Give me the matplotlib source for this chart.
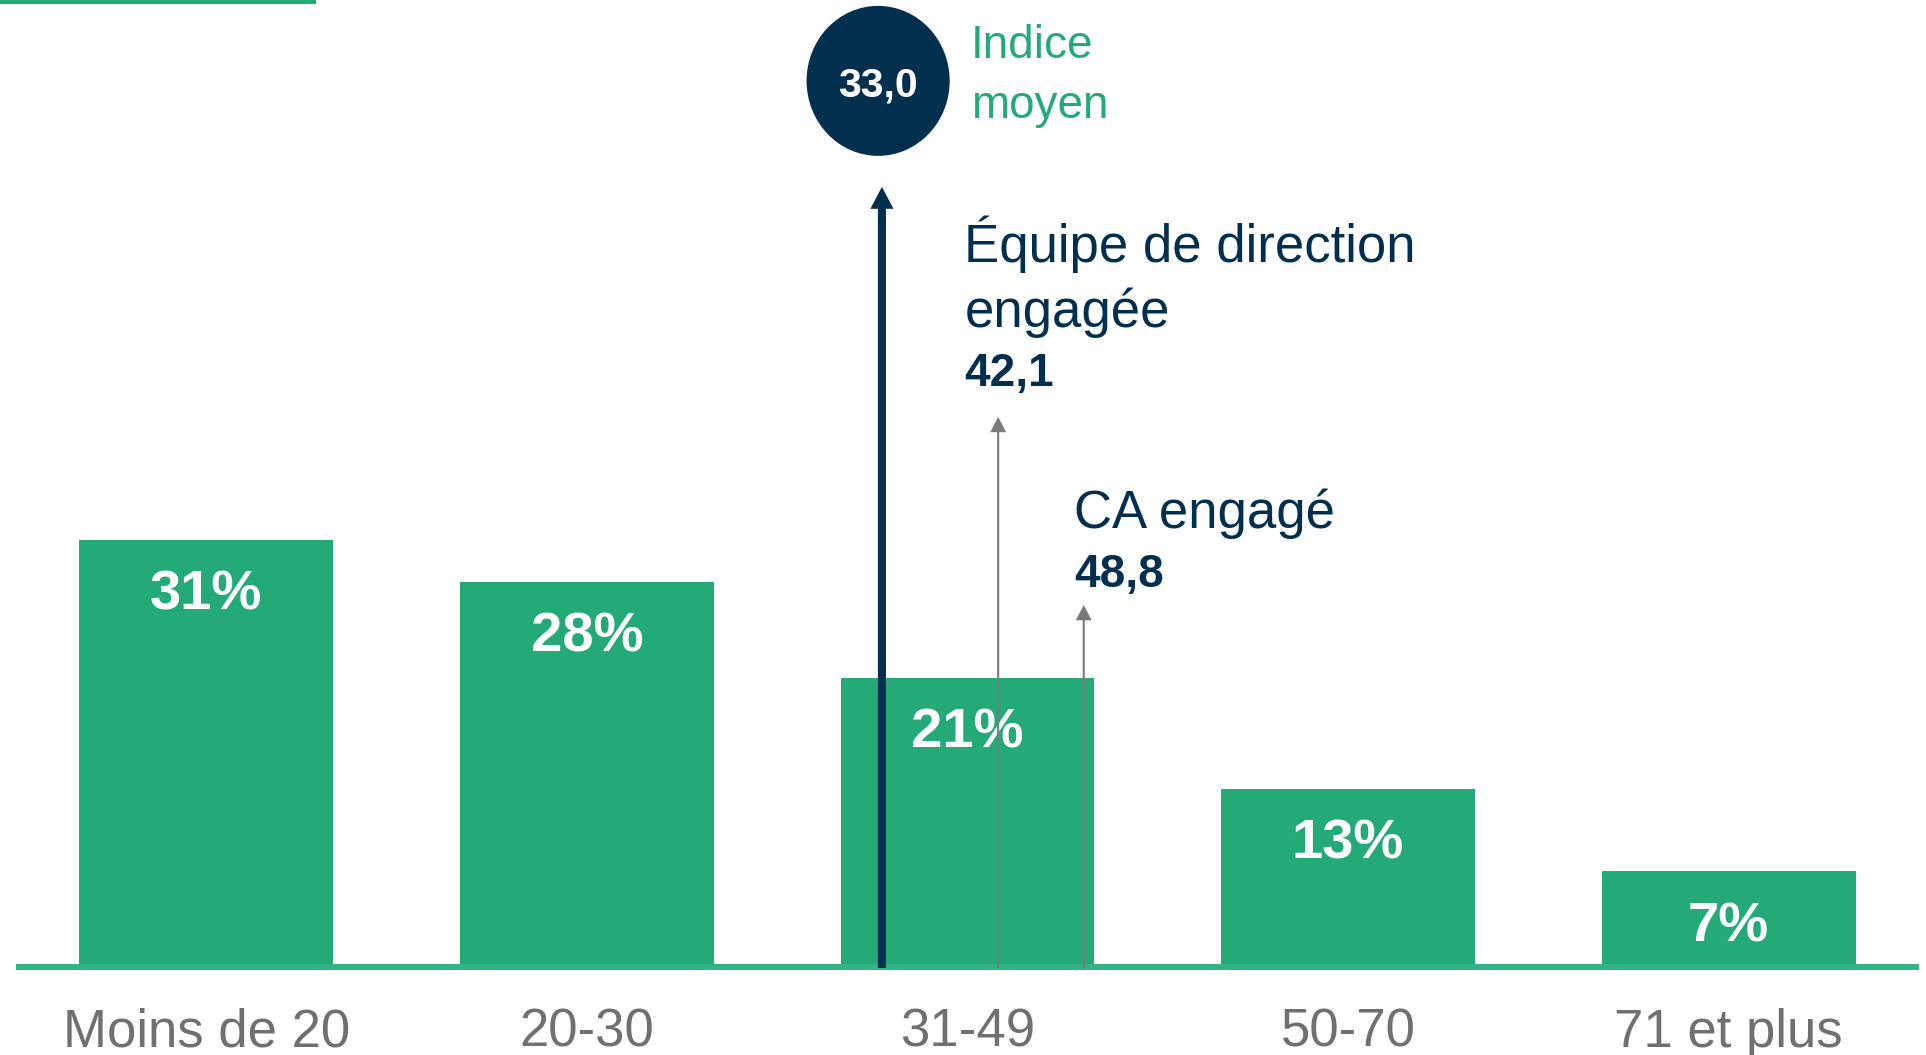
# -*- coding: utf-8 -*-
"""
Distribution by index class, with the average index and two engaged groups
"""

import matplotlib.pyplot as plt
from matplotlib.patches import Ellipse, Rectangle

CATEGORIES = ['Moins de 20', '20-30', '31-49', '50-70', '71 et plus']
SHARES = [31, 28, 21, 13, 7]

INDEX_NAMES = ['Indice moyen', 'Équipe de direction\nengagée', 'CA engagé']
INDEX_VALUES = [33.0, 42.1, 48.8]

GREEN = '#23aa77'
GREEN_LINE = '#33b383'
NAVY = '#032f4f'
GREY_TEXT = '#707070'
GREY_ARROW = '#7a7a7a'
FONT = ['Liberation Sans', 'DejaVu Sans']


def indexToX(Index_Value):
    # index scale laid over the category axis (about 30 points per class)
    return 2 + (Index_Value - 39.7) / 29.8


def formatIndex(Index_Value):
    return f"{Index_Value:.1f}".replace('.', ',')


def plotIndexChart():
    fig = plt.figure(figsize=(19.26, 10.55), dpi=100)
    ax = fig.add_axes([16 / 1926, 87 / 1055, 1903 / 1926, 968 / 1055])
    ax.set_xlim(-0.5, 4.5)
    ax.set_ylim(0, 70.14)
    ax.axis('off')

    fig.patches.append(Rectangle((0, 1 - 4 / 1055), 316 / 1926, 4 / 1055,
                                 transform=fig.transFigure, color=GREEN,
                                 lw=0))

    xs = list(range(len(CATEGORIES)))
    ax.bar(xs, SHARES, width=0.667, color=GREEN, zorder=2)
    ax.axhline(0.1, color=GREEN_LINE, lw=4.3, zorder=3, clip_on=False,
               solid_capstyle='butt')

    for x, share, cat in zip(xs, SHARES, CATEGORIES):
        ax.text(x, share - 5.05, f"{share}%", ha='center', va='baseline',
                fontsize=40.5, fontweight='bold', color='white',
                family=FONT, zorder=4)
        ax.text(x, -5.69, cat, ha='center', va='baseline', fontsize=38,
                color=GREY_TEXT, family=FONT)

    # average index: thick navy arrow topped by a badge
    x_avg = indexToX(INDEX_VALUES[0])
    ax.annotate('', xy=(x_avg, 56.6), xytext=(x_avg, 0),
                arrowprops=dict(width=5.8, headwidth=16.6, headlength=15.8,
                                color=NAVY, lw=0, shrink=0), zorder=5)
    ax.add_patch(Ellipse((x_avg - 0.01, 64.28), 0.376, 10.87, color=NAVY,
                         lw=0, zorder=5))
    ax.text(x_avg - 0.01, 63.14, formatIndex(INDEX_VALUES[0]), ha='center',
            va='baseline', fontsize=29.5, fontweight='bold', color='white',
            family=FONT, zorder=6)
    name_lines = INDEX_NAMES[0].split(' ')
    ax.text(2.008, 65.94, name_lines[0], ha='left', va='baseline',
            fontsize=33, color=GREEN, family=FONT)
    ax.text(2.008, 61.57, name_lines[1], ha='left', va='baseline',
            fontsize=33, color=GREEN, family=FONT)

    # engaged groups: thin grey arrows
    arrow_tips = [39.93, 26.3]
    label_x = [1.992, 2.281]
    label_y = [[51.16, 46.47], [31.9]]
    value_y = [42.17, 27.63]
    for i in range(2):
        x_val = indexToX(INDEX_VALUES[i + 1])
        ax.annotate('', xy=(x_val, arrow_tips[i]), xytext=(x_val, 0),
                    arrowprops=dict(width=1.5, headwidth=11.5, headlength=11,
                                    color=GREY_ARROW, lw=0, shrink=0),
                    zorder=5)
        for line, y in zip(INDEX_NAMES[i + 1].split('\n'), label_y[i]):
            ax.text(label_x[i], y, line, ha='left', va='baseline',
                    fontsize=38, color=NAVY, family=FONT)
        ax.text(label_x[i], value_y[i], formatIndex(INDEX_VALUES[i + 1]),
                ha='left', va='baseline', fontsize=33, fontweight='bold',
                color=NAVY, family=FONT)

    fig.savefig('out.png', dpi=100)
    return None


plotIndexChart()
